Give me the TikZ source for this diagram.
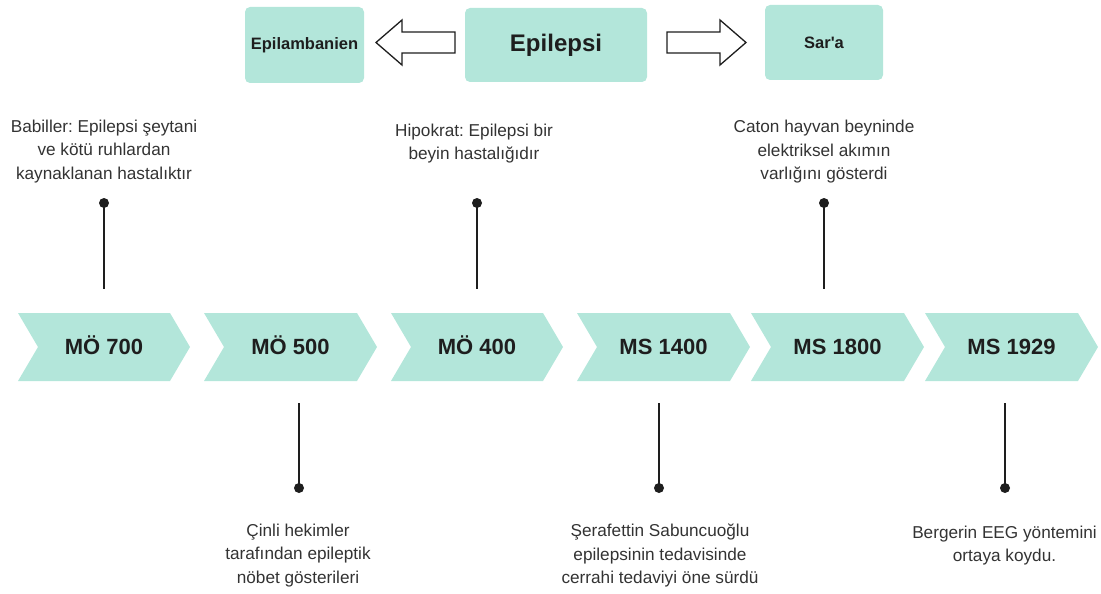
\documentclass[tikz,border=0pt]{standalone}
\usepackage{fontspec}
\setmainfont{Liberation Sans}
\usetikzlibrary{calc}
\definecolor{mint}{HTML}{B3E6DA}
\definecolor{ink}{HTML}{1E1E1E}
\definecolor{txt}{HTML}{333333}
\frenchspacing
\begin{document}
\begin{tikzpicture}[x=1pt,y=-1pt,
  topbox/.style={fill=mint, rounded corners=5pt, inner sep=0pt, text=ink, font=\bfseries\fontsize{16.5}{19}\selectfont},
  chevlabel/.style={inner sep=0pt, anchor=base, text=ink, font=\bfseries\fontsize{22}{25}\selectfont},
  note/.style={inner sep=0pt, text=txt, align=center, font=\fontsize{17.2}{23.5}\selectfont},
  arrowline/.style={draw=ink, line width=1.3pt, fill=white, line join=miter},
  stem/.style={draw=ink, line width=2.6pt},
  dotmark/.style={circle, fill=ink, inner sep=0pt, minimum size=10pt}]
\useasboundingbox (0,0) rectangle (1101,594);

% top boxes
\node[topbox, minimum width=119pt, minimum height=76pt] (lamb) at (304.5,45) {Epilambanien};
\node[topbox, minimum width=182pt, minimum height=74pt, font=\bfseries\fontsize{24}{28}\selectfont] (epi) at (556,45) {Epilepsi};
\node[topbox, minimum width=118pt, minimum height=75pt] (sara) at (824,42.5) {Sar\textquotesingle a};

% block arrows
\coordinate (la-tail) at (455,42.5);
\coordinate (la-tip) at (376,42.5);
\draw[arrowline] ($(la-tail)+(0,-10.5)$) -- ($(la-tip)+(26,-10.5)$) -- ($(la-tip)+(26,-22.5)$) -- (la-tip)
  -- ($(la-tip)+(26,22.5)$) -- ($(la-tip)+(26,10.5)$) -- ($(la-tail)+(0,10.5)$) -- cycle;
\coordinate (ra-tail) at (667,42.5);
\coordinate (ra-tip) at (746,42.5);
\draw[arrowline] ($(ra-tail)+(0,-10.5)$) -- ($(ra-tip)+(-26,-10.5)$) -- ($(ra-tip)+(-26,-22.5)$) -- (ra-tip)
  -- ($(ra-tip)+(-26,22.5)$) -- ($(ra-tip)+(-26,10.5)$) -- ($(ra-tail)+(0,10.5)$) -- cycle;

% chevrons
\newcommand\chevron[4]{%
  \fill[mint] (#1,313) -- (#2-20,313) -- (#2,347) -- (#2-20,381) -- (#1,381) -- (#1+20,347) -- cycle;
  \node[chevlabel] (#3) at ({(#1+#2)/2},354.5) {#4};}
\chevron{18}{190}{c1}{MÖ 700}
\chevron{204}{377}{c2}{MÖ 500}
\chevron{391}{563}{c3}{MÖ 400}
\chevron{577}{750}{c4}{MS 1400}
\chevron{751}{924}{c5}{MS 1800}
\chevron{925}{1098}{c6}{MS 1929}

% top stems
\node[dotmark] (d1) at (104,203) {};
\coordinate (s1) at (104,289);
\draw[stem] (d1.center) -- (s1);
\node[dotmark] (d3) at (477,203) {};
\coordinate (s3) at (477,289);
\draw[stem] (d3.center) -- (s3);
\node[dotmark] (d5) at (824,203) {};
\coordinate (s5) at (824,289);
\draw[stem] (d5.center) -- (s5);

% bottom stems
\node[dotmark] (d2) at (299,488) {};
\coordinate (s2) at (299,403);
\draw[stem] (s2) -- (d2.center);
\node[dotmark] (d4) at (659,488) {};
\coordinate (s4) at (659,403);
\draw[stem] (s4) -- (d4.center);
\node[dotmark] (d6) at (1005,488) {};
\coordinate (s6) at (1005,403);
\draw[stem] (s6) -- (d6.center);

% notes
\node[note] (t1) at (104,151.5) {Babiller: Epilepsi şeytani\\ve kötü ruhlardan\\kaynaklanan hastalıktır};
\node[note] (t3) at (474,143.5) {Hipokrat: Epilepsi bir\\beyin hastalığıdır};
\node[note] (t5) at (824,152) {Caton hayvan beyninde\\elektriksel akımın\\varlığını gösterdi};
\node[note] (t2) at (298,555.5) {Çinli hekimler\\tarafından epileptik\\nöbet gösterileri};
\node[note] (t4) at (660,555.5) {Şerafettin Sabuncuoğlu\\epilepsinin tedavisinde\\cerrahi tedaviyi öne sürdü};
\node[note] (t6) at (1004.5,545.5) {Bergerin EEG yöntemini\\ortaya koydu.};
\end{tikzpicture}
\end{document}
